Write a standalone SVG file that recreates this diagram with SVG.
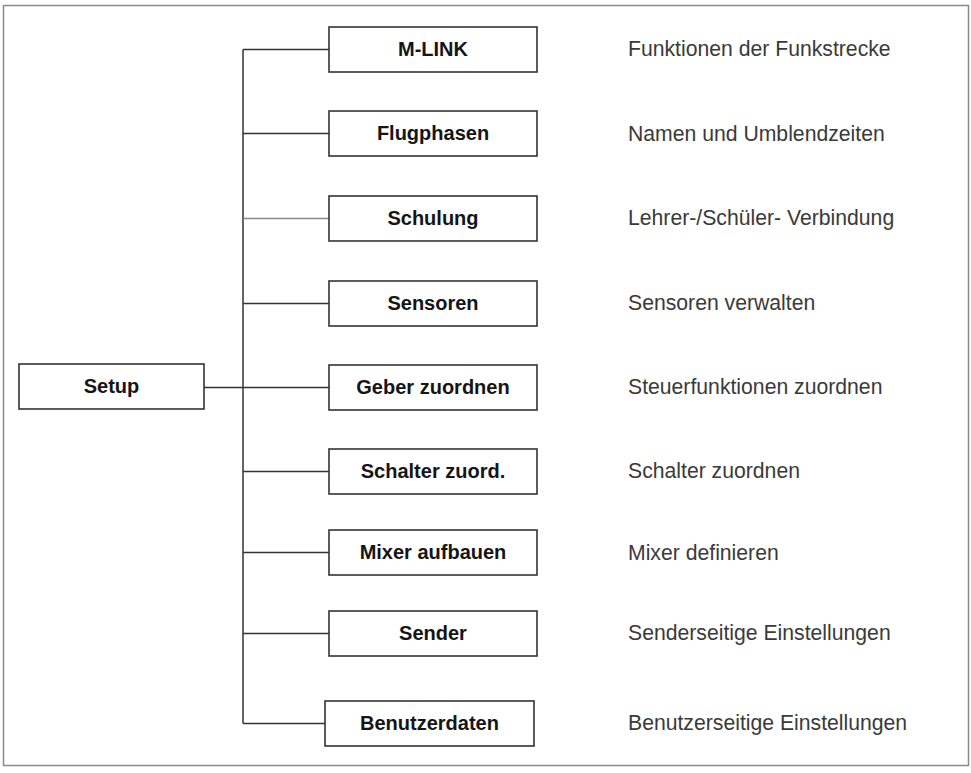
<svg xmlns="http://www.w3.org/2000/svg" width="971" height="773" viewBox="0 0 971 773">
<style>
.frame{fill:#fff;stroke:#8a8a8a;stroke-width:1.5}
.box{fill:#fff;stroke:#333;stroke-width:1.6}
.lbl{font-family:"Liberation Sans",Arial,sans-serif;font-weight:bold;font-size:20px;fill:#151515;text-anchor:middle}
.desc{font-family:"Liberation Sans",Arial,sans-serif;font-size:21.2px;fill:#3a3a3a}
.con{stroke:#333;stroke-width:1.5;fill:none}
.con2{stroke:#888;stroke-width:1.5;fill:none}
</style>
<rect x="0" y="0" width="971" height="773" fill="#fff"/>
<rect class="frame" x="3.5" y="5.5" width="965" height="760"/>
<g id="connectors">
<line class="con" x1="243" y1="49.5" x2="243" y2="723.5"/>
<line class="con" x1="204" y1="387.5" x2="329" y2="387.5"/>
<line class="con" x1="243" y1="49.5" x2="329" y2="49.5"/>
<line class="con" x1="243" y1="133.5" x2="329" y2="133.5"/>
<line class="con2" x1="243" y1="218.5" x2="329" y2="218.5"/>
<line class="con" x1="243" y1="303.5" x2="329" y2="303.5"/>
<line class="con" x1="243" y1="471.5" x2="329" y2="471.5"/>
<line class="con" x1="243" y1="552.5" x2="329" y2="552.5"/>
<line class="con" x1="243" y1="633.5" x2="329" y2="633.5"/>
<line class="con" x1="243" y1="723.5" x2="325" y2="723.5"/>
</g>
<g id="setup"><rect class="box" x="19" y="364" width="185" height="45"/><text class="lbl" x="111.5" y="393">Setup</text></g>
<g id="mlink"><rect class="box" x="329" y="27" width="208" height="45"/><text class="lbl" x="433" y="56">M-LINK</text></g>
<g id="flugphasen"><rect class="box" x="329" y="111" width="208" height="45"/><text class="lbl" x="433" y="140">Flugphasen</text></g>
<g id="schulung"><rect class="box" x="329" y="196" width="208" height="45"/><text class="lbl" x="433" y="225">Schulung</text></g>
<g id="sensoren"><rect class="box" x="329" y="281" width="208" height="45"/><text class="lbl" x="433" y="310">Sensoren</text></g>
<g id="geber"><rect class="box" x="329" y="365" width="208" height="45"/><text class="lbl" x="433" y="394">Geber zuordnen</text></g>
<g id="schalter"><rect class="box" x="329" y="449" width="208" height="45"/><text class="lbl" x="433" y="478">Schalter zuord.</text></g>
<g id="mixer"><rect class="box" x="329" y="530" width="208" height="45"/><text class="lbl" x="433" y="559">Mixer aufbauen</text></g>
<g id="sender"><rect class="box" x="329" y="611" width="208" height="45"/><text class="lbl" x="433" y="640">Sender</text></g>
<g id="benutzerdaten"><rect class="box" x="325" y="701" width="209" height="45"/><text class="lbl" x="429.5" y="730">Benutzerdaten</text></g>
<g id="descriptions">
<text class="desc" x="628" y="56">Funktionen der Funkstrecke</text>
<text class="desc" x="628" y="141">Namen und Umblendzeiten</text>
<text class="desc" x="628" y="225">Lehrer-/Schüler- Verbindung</text>
<text class="desc" x="628" y="310">Sensoren verwalten</text>
<text class="desc" x="628" y="394">Steuerfunktionen zuordnen</text>
<text class="desc" x="628" y="478">Schalter zuordnen</text>
<text class="desc" x="628" y="560">Mixer definieren</text>
<text class="desc" x="628" y="640">Senderseitige Einstellungen</text>
<text class="desc" x="628" y="730">Benutzerseitige Einstellungen</text>
</g>
</svg>
